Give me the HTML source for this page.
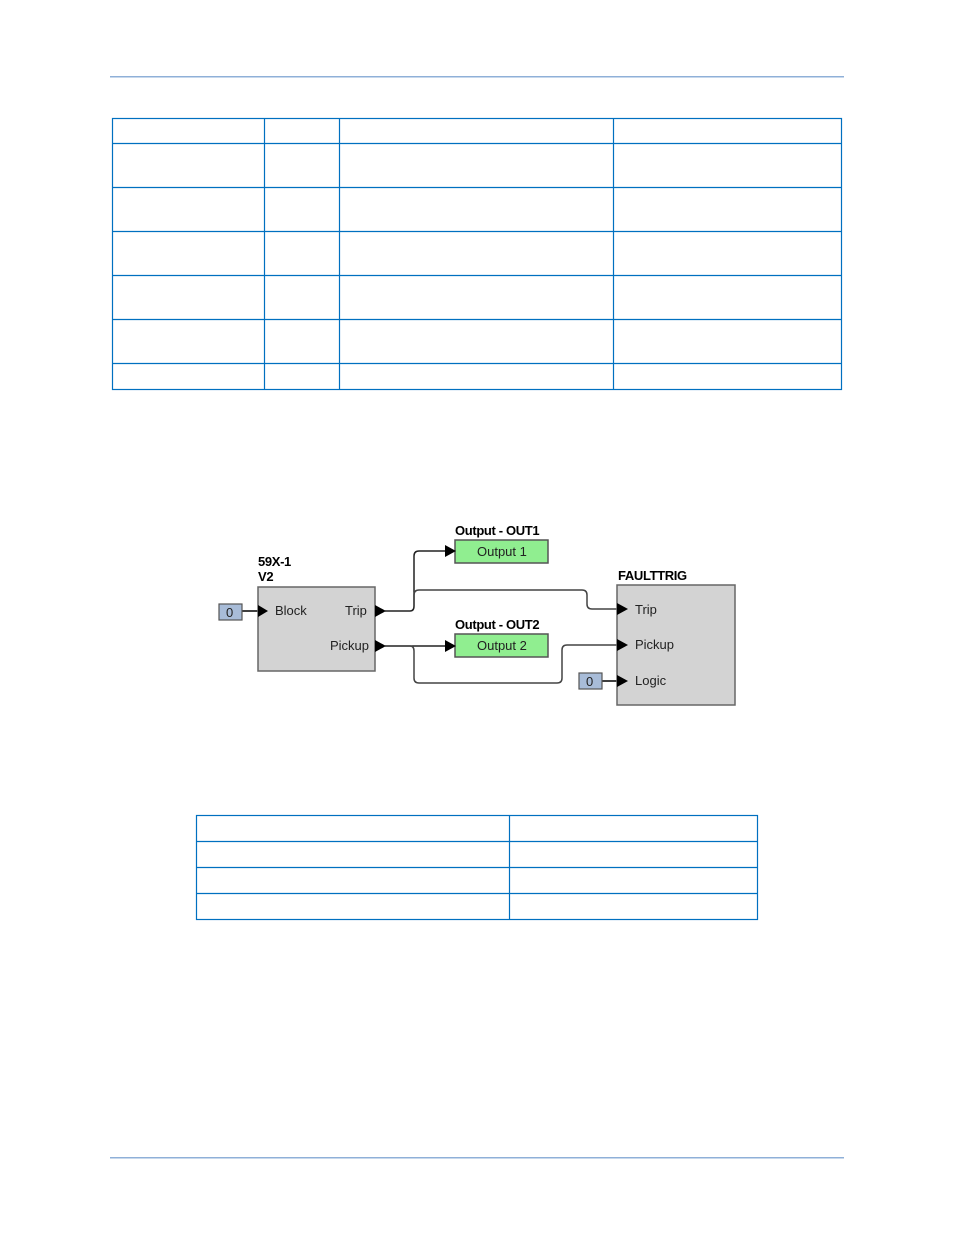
<!DOCTYPE html>
<html><head><meta charset="utf-8"><style>
html,body{margin:0;padding:0;background:#fff}
svg{display:block}
text{font-family:"Liberation Sans",Arial,sans-serif}
</style></head><body>
<svg width="954" height="1235" viewBox="0 0 954 1235" xmlns="http://www.w3.org/2000/svg">
<rect x="110" y="76" width="734" height="1.5" fill="#8fb0d8"/>
<rect x="110" y="1157" width="734" height="1.5" fill="#8fb0d8"/>
<g stroke="#0070c0" stroke-width="1.2" fill="none">
<rect x="112.5" y="118.5" width="729" height="271"/>
<line x1="112" y1="143.5" x2="842" y2="143.5"/>
<line x1="112" y1="187.5" x2="842" y2="187.5"/>
<line x1="112" y1="231.5" x2="842" y2="231.5"/>
<line x1="112" y1="275.5" x2="842" y2="275.5"/>
<line x1="112" y1="319.5" x2="842" y2="319.5"/>
<line x1="112" y1="363.5" x2="842" y2="363.5"/>
<line x1="264.5" y1="118" x2="264.5" y2="390"/>
<line x1="339.5" y1="118" x2="339.5" y2="390"/>
<line x1="613.5" y1="118" x2="613.5" y2="390"/>
<rect x="196.5" y="815.5" width="561" height="104"/>
<line x1="196" y1="841.5" x2="758" y2="841.5"/>
<line x1="196" y1="867.5" x2="758" y2="867.5"/>
<line x1="196" y1="893.5" x2="758" y2="893.5"/>
<line x1="509.5" y1="815" x2="509.5" y2="920"/>
</g>
<g fill="none" stroke-width="1.5">
<path d="M385 611 H410 Q414 611 414 606 V556 Q414 551 419 551 H445" stroke="#222"/>
<path d="M414 606 V595 Q414 590 419 590 H582 Q587 590 587 595 V604 Q587 609 592 609 H617" stroke="#444"/>
<path d="M385 646 H445" stroke="#222"/>
<path d="M410 646 Q414 646 414 651 V678 Q414 683 419 683 H557 Q562 683 562 678 V650 Q562 645 567 645 H617" stroke="#444"/>
<path d="M242 611 H258" stroke="#000"/>
<path d="M602 681 H617" stroke="#000"/>
</g>
<rect x="258" y="587" width="117" height="84" fill="#d3d3d3" stroke="#666" stroke-width="1.5"/>
<rect x="617" y="585" width="118" height="120" fill="#d3d3d3" stroke="#666" stroke-width="1.5"/>
<rect x="455" y="540" width="93" height="23" fill="#90ee90" stroke="#555" stroke-width="1.5"/>
<rect x="455" y="634" width="93" height="23" fill="#90ee90" stroke="#555" stroke-width="1.5"/>
<rect x="219" y="604" width="23" height="16" fill="#a8bcd8" stroke="#555" stroke-width="1.2"/>
<rect x="579" y="673" width="23" height="16" fill="#a8bcd8" stroke="#555" stroke-width="1.2"/>
<g fill="#000">
<polygon points="258,605 258,617 268,611"/>
<polygon points="375,605 375,617 386,611"/>
<polygon points="375,640 375,652 386,646"/>
<polygon points="445,545 445,557 456,551"/>
<polygon points="445,640 445,652 456,646"/>
<polygon points="617,603 617,615 628,609"/>
<polygon points="617,639 617,651 628,645"/>
<polygon points="617,675 617,687 628,681"/>
</g>
<g font-size="13" fill="#222">
<text x="226" y="617">0</text>
<text x="586" y="686">0</text>
<text x="275" y="615">Block</text>
<text x="345" y="615">Trip</text>
<text x="330" y="650">Pickup</text>
<text x="635" y="614">Trip</text>
<text x="635" y="649">Pickup</text>
<text x="635" y="685">Logic</text>
<text x="477" y="556">Output 1</text>
<text x="477" y="650">Output 2</text>
</g>
<g font-size="13" font-weight="bold" fill="#000" letter-spacing="-0.35">
<text x="258" y="566">59X-1</text>
<text x="258" y="581">V2</text>
<text x="455" y="535">Output - OUT1</text>
<text x="455" y="629">Output - OUT2</text>
<text x="618" y="580">FAULTTRIG</text>
</g>
</svg>
</body></html>
